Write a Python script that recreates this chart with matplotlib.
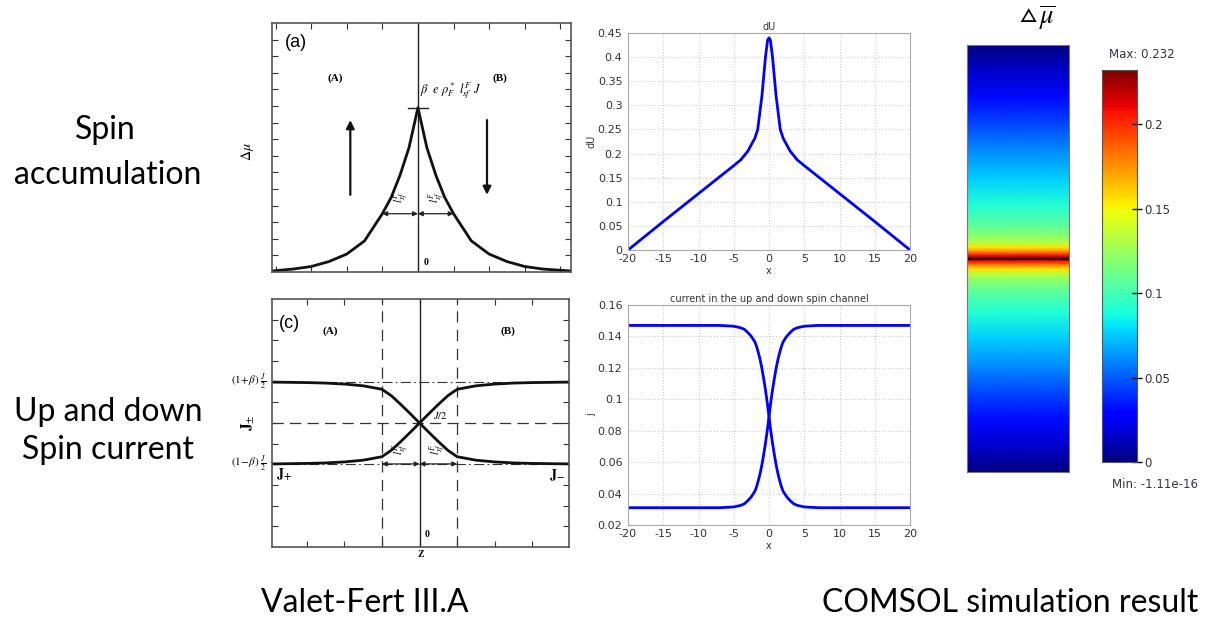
import numpy as np
import matplotlib.pyplot as plt
from matplotlib import transforms
from matplotlib.ticker import FormatStrFormatter

plt.rcParams['mathtext.fontset'] = 'stix'
plt.rcParams['axes.unicode_minus'] = False

# Valet-Fert (a): spin accumulation, z in units of l_sf, height in axes units
z_a = [-4.1, -3.5, -3.0, -2.5, -2.0, -1.5, -1.0, -0.75, -0.5, -0.25, 0.0,
       0.25, 0.5, 0.75, 1.0, 1.5, 2.0, 2.5, 3.0, 3.5, 4.3]
dmu_a = [0.004, 0.012, 0.022, 0.042, 0.072, 0.125, 0.234, 0.30, 0.39, 0.50, 0.66,
         0.50, 0.39, 0.30, 0.234, 0.125, 0.072, 0.042, 0.022, 0.012, 0.004]

# Valet-Fert (c): up / down spin currents (axes units)
z_c = [-3.92, -3.0, -2.5, -2.0, -1.5, -1.0, -0.75, -0.5, -0.25, 0.0,
       0.25, 0.5, 0.75, 1.0, 1.5, 2.0, 2.5, 3.0, 3.97]
j_plus = [0.335, 0.337, 0.339, 0.343, 0.350, 0.364, 0.39, 0.425, 0.462, 0.50,
          0.538, 0.575, 0.61, 0.636, 0.650, 0.657, 0.661, 0.663, 0.665]
j_minus = [0.665, 0.663, 0.661, 0.657, 0.650, 0.636, 0.61, 0.575, 0.538, 0.50,
           0.462, 0.425, 0.39, 0.364, 0.350, 0.343, 0.339, 0.337, 0.335]
lvl_up, lvl_mid, lvl_dn = 0.665, 0.5, 0.335

# COMSOL: dU
x_du = [-20, -15, -10, -5, -4, -3, -2, -1.6, -1, -0.5, -0.2, 0,
        0.2, 0.5, 1, 1.6, 2, 3, 4, 5, 10, 15, 20]
du = [0, 0.059, 0.117, 0.175, 0.187, 0.205, 0.232, 0.25, 0.32, 0.40, 0.435, 0.44,
      0.435, 0.40, 0.32, 0.25, 0.232, 0.205, 0.187, 0.175, 0.117, 0.059, 0]

# COMSOL: current in the up and down spin channel
x_j = [-20, -7, -5, -4, -3.5, -3, -2.5, -2, -1.75, -1.5, -1.25, -1, -0.75, -0.5, -0.25, 0,
       0.25, 0.5, 0.75, 1, 1.25, 1.5, 1.75, 2, 2.5, 3, 3.5, 4, 5, 7, 20]
j_dn = [0.147, 0.147, 0.1465, 0.1455, 0.1445, 0.1425, 0.1400, 0.1365, 0.1335, 0.1295, 0.1250,
        0.1195, 0.1130, 0.1060, 0.0980, 0.0890,
        0.0800, 0.0720, 0.0650, 0.0585, 0.0530, 0.0485, 0.0445, 0.0415, 0.0380, 0.0355,
        0.0335, 0.0325, 0.0315, 0.031, 0.031]
j_up = [0.031, 0.031, 0.0315, 0.0325, 0.0335, 0.0355, 0.0380, 0.0415, 0.0445, 0.0485, 0.0530,
        0.0585, 0.0650, 0.0720, 0.0800, 0.0890,
        0.0980, 0.1060, 0.1130, 0.1195, 0.1250, 0.1295, 0.1335, 0.1365, 0.1400, 0.1425,
        0.1445, 0.1455, 0.1465, 0.147, 0.147]

# COMSOL: spin accumulation field along the wire
y_field = [-20, -17.5, -15, -12.5, -10, -7.5, -5, -4, -3, -2, -1.5, -1, -0.6, -0.3, -0.1, 0,
           0.1, 0.3, 0.6, 1, 1.5, 2, 3, 4, 5, 7.5, 10, 12.5, 15, 17.5, 20]
mu_field = [0.0, 0.016, 0.031, 0.046, 0.061, 0.076, 0.091, 0.099, 0.108, 0.122, 0.132, 0.155, 0.18,
            0.205, 0.225, 0.232, 0.225, 0.205, 0.18, 0.155, 0.132, 0.122, 0.108, 0.099, 0.091,
            0.076, 0.061, 0.046, 0.031, 0.016, 0.0]
cb_ticks = [0, 0.05, 0.1, 0.15, 0.2]

W, H = 1225, 628


def box(l, t, r, b):
    return [l / W, 1 - b / H, (r - l) / W, (b - t) / H]


fig = plt.figure(figsize=(12.25, 6.28), dpi=100)
serif = 'Liberation Serif'
big = dict(fontsize=23, family='Lato', color='black', ha='center', va='center')

fig.text(105 / W, 1 - 130 / H, 'Spin', **big)
fig.text(108 / W, 1 - 175 / H, 'accumulation', **big)
fig.text(108 / W, 1 - 412 / H, 'Up and down', **big)
fig.text(108 / W, 1 - 450 / H, 'Spin current', **big)
fig.text(365 / W, 1 - 603 / H, 'Valet-Fert III.A', **big)
fig.text(1010 / W, 1 - 603 / H, 'COMSOL simulation result', **big)


def scan_axes(ax, xlim, ystep):
    ax.set_xlim(*xlim)
    ax.set_ylim(0, 1)
    ax.set_xticks(np.arange(np.ceil(xlim[0]), xlim[1], 1.0))
    ax.set_yticks(np.arange(ystep, 1, ystep))
    ax.tick_params(direction='in', length=4, width=0.8, top=True, right=True,
                   labelbottom=False, labelleft=False, colors='#333333')
    for s in ax.spines.values():
        s.set_color('#555555')
        s.set_linewidth(1.2)
    ax.axvline(0, color='#222222', lw=1)


# ---- panel (a)
ax_a = fig.add_axes(box(272, 23, 571, 272))
scan_axes(ax_a, (-4.1, 4.3), 1 / 15)
ax_a.plot(z_a, dmu_a, color='#111111', lw=2)
ax_a.plot([-0.28, 0.28], [0.66, 0.66], color='#222222', lw=1)
for x0, x1 in [(-1, 0), (0, 1)]:
    ax_a.annotate('', xy=(x0, 0.234), xytext=(x1, 0.234),
                  arrowprops=dict(arrowstyle='<|-|>', color='#222222', lw=0.9,
                                  mutation_scale=7, shrinkA=0, shrinkB=0))
ax_a.annotate('', xy=(-1.9, 0.61), xytext=(-1.9, 0.31),
              arrowprops=dict(arrowstyle='-|>', color='#111111', lw=1.6,
                              mutation_scale=12, shrinkA=0, shrinkB=0))
ax_a.annotate('', xy=(1.94, 0.31), xytext=(1.94, 0.61),
              arrowprops=dict(arrowstyle='-|>', color='#111111', lw=1.6,
                              mutation_scale=12, shrinkA=0, shrinkB=0))
ax_a.text(-3.75, 0.92, '(a)', fontsize=13, family='Liberation Sans', va='center')
ax_a.text(-2.33, 0.78, '(A)', fontsize=8, family=serif, weight='bold', ha='center', va='center')
ax_a.text(2.3, 0.78, '(B)', fontsize=8, family=serif, weight='bold', ha='center', va='center')
ax_a.text(0.05, 0.73, r'$\beta\ \ e\ \rho^*_F\ l^F_{sf}\ J$', fontsize=9, va='center')
ax_a.text(-0.48, 0.30, r'$l^F_{sf}$', fontsize=8, rotation=90, ha='center', va='center')
ax_a.text(0.52, 0.30, r'$l^F_{sf}$', fontsize=8, rotation=90, ha='center', va='center')
ax_a.text(0.22, 0.04, '0', fontsize=7, family=serif, weight='bold', ha='center', va='center')
fig.text(248 / W, 1 - 152 / H, r'$\Delta\mu$', fontsize=10, rotation=90, ha='center', va='center')

# ---- panel (c)
ax_c = fig.add_axes(box(272, 299, 569, 547))
scan_axes(ax_c, (-3.92, 3.97), 1 / 12)
ax_c.axhline(lvl_up, color='#333333', lw=0.8, dashes=(9, 3, 1.5, 3))
ax_c.axhline(lvl_dn, color='#333333', lw=0.8, dashes=(9, 3, 1.5, 3))
ax_c.axhline(lvl_mid, color='#333333', lw=0.9, dashes=(9, 5))
ax_c.axvline(-1, color='#333333', lw=0.9, dashes=(9, 6))
ax_c.axvline(1, color='#333333', lw=0.9, dashes=(9, 6))
ax_c.plot(z_c, j_plus, color='#111111', lw=2)
ax_c.plot(z_c, j_minus, color='#111111', lw=2)
for x0, x1 in [(-1, 0), (0, 1)]:
    ax_c.annotate('', xy=(x0, lvl_dn), xytext=(x1, lvl_dn),
                  arrowprops=dict(arrowstyle='<|-|>', color='#222222', lw=0.9,
                                  mutation_scale=7, shrinkA=0, shrinkB=0))
ax_c.text(-3.75, 0.9, '(c)', fontsize=13, family='Liberation Sans', va='center')
ax_c.text(-2.37, 0.87, '(A)', fontsize=8, family=serif, weight='bold', ha='center', va='center')
ax_c.text(2.35, 0.87, '(B)', fontsize=8, family=serif, weight='bold', ha='center', va='center')
ax_c.text(0.56, 0.53, r'$J/2$', fontsize=7.5, ha='center', va='center')
ax_c.text(-0.5, 0.395, r'$l^F_{sf}$', fontsize=8, rotation=90, ha='center', va='center')
ax_c.text(0.48, 0.395, r'$l^F_{sf}$', fontsize=8, rotation=90, ha='center', va='center')
ax_c.text(-3.6, 0.29, r'$\mathbf{J}_{\mathbf{+}}$', fontsize=10, ha='center', va='center')
ax_c.text(3.65, 0.29, r'$\mathbf{J}_{\mathbf{-}}$', fontsize=10, ha='center', va='center')
ax_c.text(0.2, 0.05, '0', fontsize=7, family=serif, weight='bold', ha='center', va='center')
ax_c.set_xlabel('Z', fontsize=7, family=serif, weight='bold', labelpad=2)
tr = transforms.blended_transform_factory(ax_c.transAxes, ax_c.transData)
ax_c.text(-0.02, lvl_up, r'$(1\!+\!\beta)\ \frac{J}{2}$', fontsize=8, ha='right', va='center', transform=tr)
ax_c.text(-0.02, lvl_dn, r'$(1\!-\!\beta)\ \frac{J}{2}$', fontsize=8, ha='right', va='center', transform=tr)
fig.text(248 / W, 1 - 423 / H, r'$\mathbf{J}_{\pm}$', fontsize=11, rotation=90, ha='center', va='center')


# ---- COMSOL line plots
def comsol_axes(ax):
    ax.set_xlim(-20, 20)
    ax.set_xticks(np.arange(-20, 21, 5))
    ax.grid(True, color='#cccccc', ls=':', lw=0.8)
    ax.tick_params(length=0, labelsize=8, colors='#333333')
    ax.tick_params(axis='x', pad=3)
    ax.tick_params(axis='y', pad=4)
    ax.yaxis.set_major_formatter(FormatStrFormatter('%g'))
    for s in ax.spines.values():
        s.set_color('#aaaaaa')
    ax.set_xlabel('x', fontsize=7, color='#333333', labelpad=1)


ax_du = fig.add_axes(box(628, 33, 910, 250))
comsol_axes(ax_du)
ax_du.plot(x_du, du, color='#0000ff', lw=2)
ax_du.set_ylim(0, 0.45)
ax_du.set_yticks(np.arange(0, 0.451, 0.05))
ax_du.set_title('dU', fontsize=7, color='#333333', pad=2)
ax_du.set_ylabel('dU', fontsize=7, color='#333333', labelpad=1)

ax_j = fig.add_axes(box(628, 305, 910, 525))
comsol_axes(ax_j)
ax_j.plot(x_j, j_dn, color='#0000ff', lw=2)
ax_j.plot(x_j, j_up, color='#0000ff', lw=2)
ax_j.set_ylim(0.02, 0.16)
ax_j.set_yticks(np.arange(0.02, 0.161, 0.02))
ax_j.set_title('current in the up and down spin channel', fontsize=7, color='#333333', pad=2)
ax_j.set_ylabel('j', fontsize=7, color='#333333', labelpad=1)

# ---- COMSOL surface + colour bar
ax_f = fig.add_axes(box(967, 45, 1069, 472))
Y = np.array(y_field)
Xg, Yg = np.meshgrid([0, 1], -Y)
Cg = np.column_stack([mu_field, mu_field])
mesh = ax_f.pcolormesh(Xg, Yg, Cg, cmap='jet', vmin=0, vmax=0.232, shading='gouraud')
ax_f.axhline(0, color='#200000', lw=1.2)
ax_f.set_xlim(0, 1)
ax_f.set_ylim(-20, 20)
ax_f.set_xticks([])
ax_f.set_yticks([])
for s in ax_f.spines.values():
    s.set_color('#777777')
fig.text(1037 / W, 1 - 18 / H, r'$\vartriangle\,\overline{\mu}$', fontsize=19, ha='center', va='center')

cax = fig.add_axes(box(1102, 70, 1137, 462))
cb = fig.colorbar(mesh, cax=cax, ticks=cb_ticks)
cb.ax.yaxis.set_major_formatter(FormatStrFormatter('%g'))
cb.ax.tick_params(direction='inout', length=7, width=1, color='black',
                  labelsize=8.5, labelcolor='#333333', pad=2)
cb.outline.set_edgecolor('#555555')
fig.text(1142 / W, 1 - 55 / H, 'Max: 0.232', fontsize=8.5, color='#333344', ha='center', va='center')
fig.text(1155 / W, 1 - 485 / H, 'Min: -1.11e-16', fontsize=8.5, color='#333344', ha='center', va='center')

fig.savefig('out.png', dpi=100)
